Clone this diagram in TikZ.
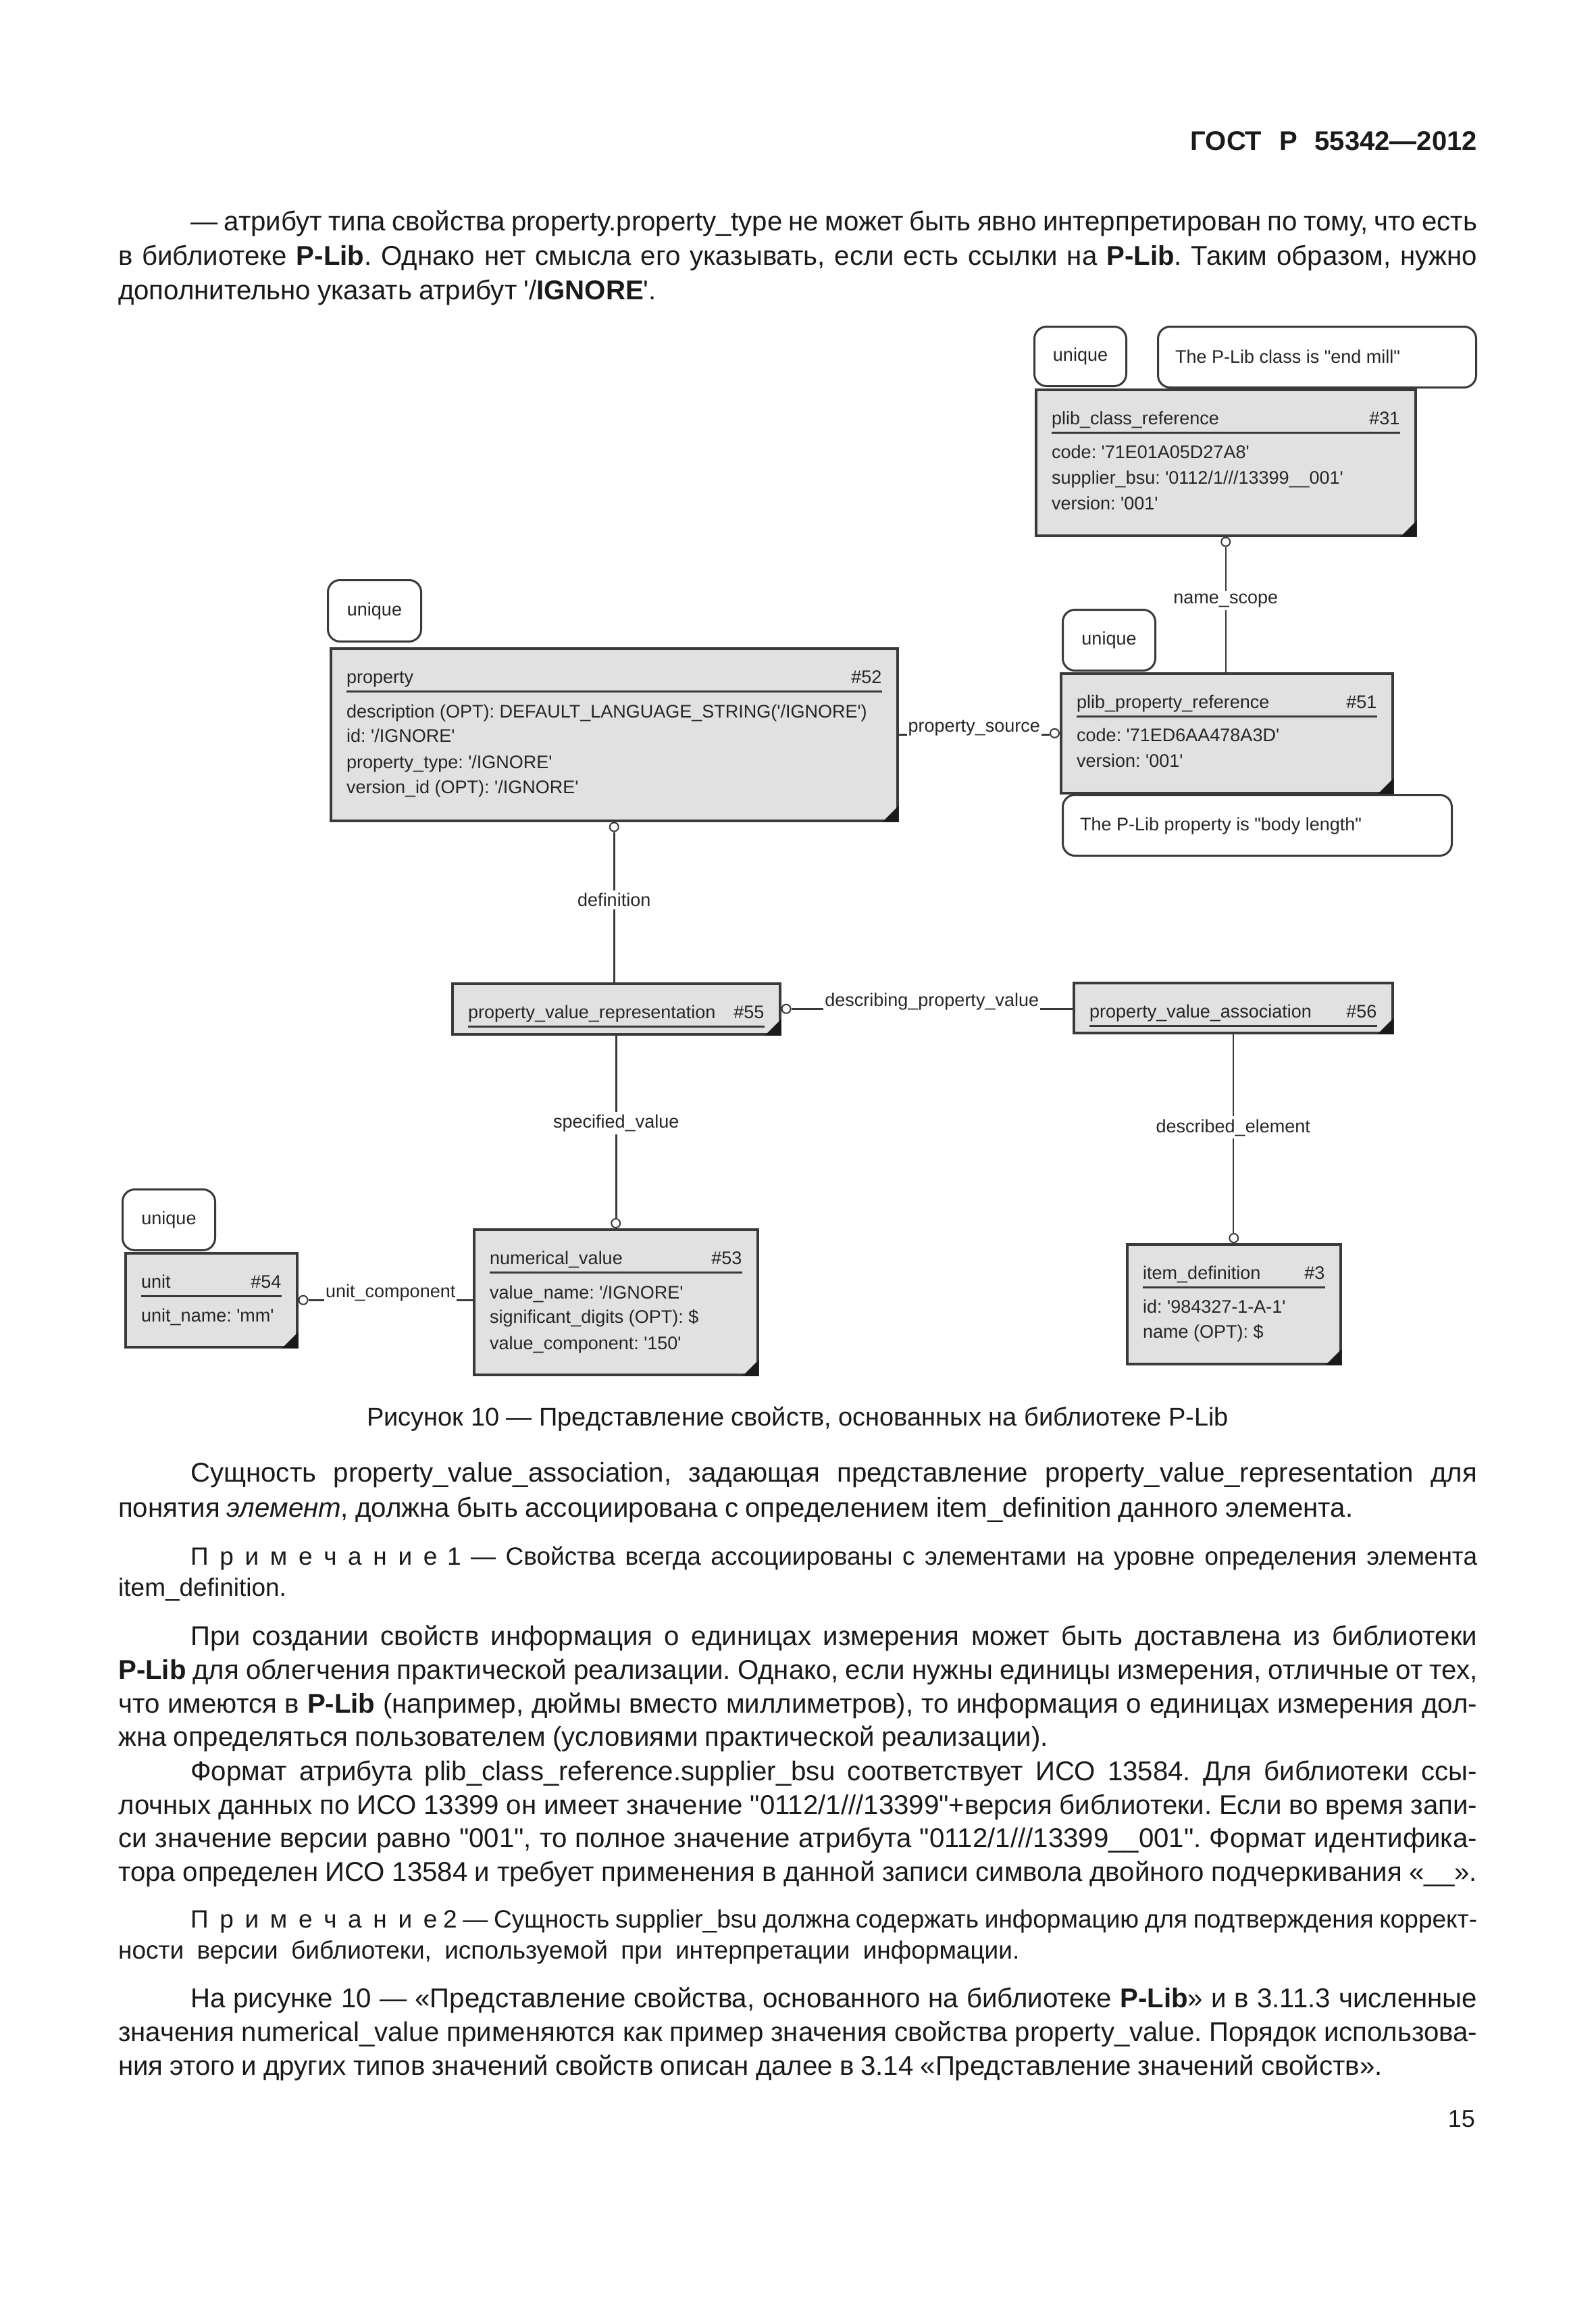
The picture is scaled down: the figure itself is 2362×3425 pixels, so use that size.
\documentclass[tikz,border=0pt]{standalone}
\usepackage{fontspec}
\setmainfont{Liberation Sans}[Ligatures=TeXOff]
\usetikzlibrary{calc}
\frenchspacing
\definecolor{ink}{HTML}{1A1A1A}
\definecolor{dline}{HTML}{3A3A3A}
\definecolor{efill}{HTML}{E1E1E1}
\definecolor{dtxt}{HTML}{262626}
\newcommand\bodyfont{\fontsize{40.2}{52.5}\selectfont\frenchspacing\spaceskip=.25em plus 1.5em minus .1em\relax}
\newcommand\notefont{\fontsize{37}{46}\selectfont\frenchspacing\spaceskip=.26em plus 1.5em minus .12em\relax}
\newcommand\capfont{\fontsize{38}{46}\selectfont}
\newcommand\diafont{\fontsize{27}{38}\selectfont}
\newcommand\prim{П\kern.45emр\kern.45emи\kern.45emм\kern.45emе\kern.45emч\kern.45emа\kern.45emн\kern.45emи\kern.45emе}
\tikzset{
  ent/.style={draw=dline, line width=3.5pt, fill=efill, rectangle, inner sep=0pt, anchor=north west},
  uq/.style={draw=dline, line width=3pt, fill=white, rounded corners=18pt, rectangle, inner sep=0pt, anchor=north west},
  dtext/.style={font=\diafont, text=dtxt, inner sep=0pt},
  uline/.style={draw=dline, line width=3pt},
  conn/.style={draw=dline, line width=2.5pt},
  ocirc/.style={circle, draw=dline, fill=white, line width=2pt, minimum size=13pt, inner sep=0pt},
  vlbl/.style={dtext, fill=white, inner xsep=1pt, inner ysep=4pt},
  hlbl/.style={dtext, fill=white, inner xsep=2pt, inner ysep=0pt, anchor=base, yshift=4pt},
  btext/.style={font=\bodyfont, text=ink, inner sep=0pt, anchor=base west},
  ntext/.style={font=\notefont, text=ink, inner sep=0pt, anchor=base west},
}
\newcommand\ent[7]{%
  \node[ent, minimum width={#4-#2}, minimum height={#5-#3}] (#1) at (#2,#3) {};
  \fill[ink] ($(#1.south east)+(-24,0)$) -- (#1.south east) -- ($(#1.south east)+(0,-24)$) -- cycle;
  \node[dtext, anchor=base west] (#1-t) at ($(#1.north west)+(25,53)$) {#6};
  \node[dtext, anchor=base east] (#1-n) at ($(#1.north east)+(-25,53)$) {\##7};
  \draw[uline] ($(#1.north west)+(25,65)$) -- ($(#1.north east)+(-25,65)$);
}
\newcommand\attr[4]{\node[dtext, anchor=base west] (#1-#2) at ($(#1.north west)+(25,#3)$) {#4};}
\newcommand\uniq[5]{%
  \node[uq, minimum width=#4, minimum height=#5] (#1) at (#2,#3) {};
  \node[dtext, anchor=base] (#1-t) at ($(#1.center)+(0,7)$) {unique};
}
\newcommand\jl[4]{\node[btext] (#1) at (#2,#3) {\makebox[\dimexpr 2187pt-#2pt\relax][s]{#4}};}
\newcommand\jn[4]{\node[ntext] (#1) at (#2,#3) {\makebox[\dimexpr 2187pt-#2pt\relax][s]{#4}};}
\begin{document}
\begin{tikzpicture}[x=1pt, y=-1pt]
\fill[white] (0,0) rectangle (2362,3425);
\useasboundingbox (0,0) rectangle (2362,3425);

% header
\node[btext, anchor=base east, font=\fontsize{40}{48}\selectfont\bfseries] (hdr) at (2187,223) {\makebox[424pt][s]{ГОСТ Р 55342—2012}};

% paragraph A
\jl{a1}{282}{341}{— атрибут типа свойства property.property\_type не может быть явно интерпретирован по тому, что есть}
\jl{a2}{175}{392}{в библиотеке \textbf{P-Lib}. Однако нет смысла его указывать, если есть ссылки на \textbf{P-Lib}. Таким образом, нужно}
\node[btext] (a3) at (175,443) {дополнительно указать атрибут '/\textbf{IGNORE}'.};

% ---------- diagram ----------
\uniq{u31}{1530}{482}{136}{88}
\node[uq, minimum width=471, minimum height=90] (n31) at (1713,482) {};
\node[dtext, anchor=base west] (n31-t) at ($(n31.north west)+(27,55)$) {The P-Lib class is "end mill"};
\ent{p31}{1532}{575}{2094}{791}{plib\_class\_reference}{31}
\attr{p31}{a}{103}{code: '71E01A05D27A8'}
\attr{p31}{b}{141}{supplier\_bsu: '0112/1///13399\_\_001'}
\attr{p31}{c}{179}{version: '001'}

\uniq{u52}{484}{857}{138}{91}
\ent{p52}{488}{958}{1327}{1213}{property}{52}
\attr{p52}{a}{104}{description (OPT): DEFAULT\_LANGUAGE\_STRING('/IGNORE')}
\attr{p52}{b}{140}{id: '/IGNORE'}
\attr{p52}{c}{179}{property\_type: '/IGNORE'}
\attr{p52}{d}{216}{version\_id (OPT): '/IGNORE'}

\uniq{u51}{1572}{901}{137}{90}
\ent{p51}{1569}{995}{2060}{1172}{plib\_property\_reference}{51}
\attr{p51}{a}{102}{code: '71ED6AA478A3D'}
\attr{p51}{b}{140}{version: '001'}
\node[uq, minimum width=576, minimum height=90] (n51) at (1572,1175) {};
\node[dtext, anchor=base west] (n51-t) at ($(n51.north west)+(27,54)$) {The P-Lib property is "body length"};

\ent{p55}{668}{1454}{1153}{1529}{property\_value\_representation}{55}
\ent{p56}{1588}{1453}{2060}{1527}{property\_value\_association}{56}

\uniq{u54}{180}{1759}{137}{90}
\ent{p54}{184}{1853}{438}{1992}{unit}{54}
\attr{p54}{a}{103}{unit\_name: 'mm'}

\ent{p53}{700}{1818}{1120}{2033}{numerical\_value}{53}
\attr{p53}{a}{104}{value\_name: '/IGNORE'}
\attr{p53}{b}{140}{significant\_digits (OPT): \$}
\attr{p53}{c}{179}{value\_component: '150'}

\ent{p3}{1667}{1840}{1983}{2017}{item\_definition}{3}
\attr{p3}{a}{103}{id: '984327-1-A-1'}
\attr{p3}{b}{140}{name (OPT): \$}

% connectors
\node[ocirc, anchor=north] (c31) at (p31.south) {};
\draw[conn] (c31.south) -- node[vlbl, pos=0.43] (l-ns) {name\_scope} (c31.south |- p51.north);

\node[ocirc, anchor=east] (c51) at (p51.west) {};
\draw[conn] (p52.east) -- node[hlbl] (l-ps) {property\_source} (p52.east -| c51.west);

\node[ocirc, anchor=north] (c52) at (p52.south) {};
\draw[conn] (c52.south) -- node[vlbl, pos=0.45] (l-def) {definition} (c52.south |- p55.north);

\node[ocirc, anchor=west] (c55) at (p55.east) {};
\draw[conn] (c55.east) -- node[hlbl] (l-dpv) {describing\_property\_value} (c55.east -| p56.west);

\node[ocirc, anchor=south] (c53) at (p53.north) {};
\draw[conn] (p55.south) -- node[vlbl, pos=0.48] (l-sv) {specified\_value} (p55.south |- c53.north);

\node[ocirc, anchor=south] (c3) at (p3.north) {};
\draw[conn] (p56.south) -- node[vlbl, pos=0.47] (l-de) {described\_element} (p56.south |- c3.north);

\node[ocirc, anchor=west] (c54) at (p54.east) {};
\draw[conn] (c54.east) -- node[hlbl] (l-uc) {unit\_component} (c54.east -| p53.west);

% caption
\node[btext, anchor=base, font=\capfont] (cap) at (1181,2110) {Рисунок 10 — Представление свойств, основанных на библиотеке P-Lib};

% paragraph B
\jl{b1}{282}{2193}{Сущность property\_value\_association, задающая представление property\_value\_representation для}
\node[btext] (b2) at (175,2245) {понятия \textit{элемент}, должна быть ассоциирована с определением item\_definition данного элемента.};

% note 1
\jn{n1}{282}{2316}{\prim\ 1 — Свойства всегда ассоциированы с элементами на уровне определения элемента}
\node[ntext] (n1b) at (175,2362) {item\_definition.};

% paragraph C
\jl{c1}{282}{2435}{При создании свойств информация о единицах измерения может быть доставлена из библиотеки}
\jl{c2}{175}{2485}{\textbf{P-Lib} для облегчения практической реализации. Однако, если нужны единицы измерения, отличные от тех,}
\jl{c3}{175}{2535}{что имеются в \textbf{P-Lib} (например, дюймы вместо миллиметров), то информация о единицах измерения дол-}
\node[btext] (c4) at (175,2584) {жна определяться пользователем (условиями практической реализации).};

% paragraph D
\jl{d1}{282}{2635}{Формат атрибута plib\_class\_reference.supplier\_bsu соответствует ИСО 13584. Для библиотеки ссы-}
\jl{d2}{175}{2685}{лочных данных по ИСО 13399 он имеет значение "0112/1///13399"+версия библиотеки. Если во время запи-}
\jl{d3}{175}{2734}{си значение версии равно "001", то полное значение атрибута "0112/1///13399\_\_001". Формат идентифика-}
\jl{d4}{175}{2784}{тора определен ИСО 13584 и требует применения в данной записи символа двойного подчеркивания «\_\_».}

% note 2
\jn{m1}{282}{2853}{\prim\ 2 — Сущность supplier\_bsu должна содержать информацию для подтверждения коррект-}
\node[ntext] (m2) at (175,2899) {\makebox[1334pt][s]{ности версии библиотеки, используемой при интерпретации информации.}};

% paragraph E
\jl{e1}{282}{2971}{На рисунке 10 — «Представление свойства, основанного на библиотеке \textbf{P-Lib}» и в 3.11.3 численные}
\jl{e2}{175}{3021}{значения numerical\_value применяются как пример значения свойства property\_value. Порядок использова-}
\node[btext] (e3) at (175,3071) {ния этого и других типов значений свойств описан далее в 3.14 «Представление значений свойств».};

% page number
\node[btext, anchor=base east, font=\fontsize{36}{40}\selectfont] (pg) at (2184,3148) {15};
\end{tikzpicture}
\end{document}
